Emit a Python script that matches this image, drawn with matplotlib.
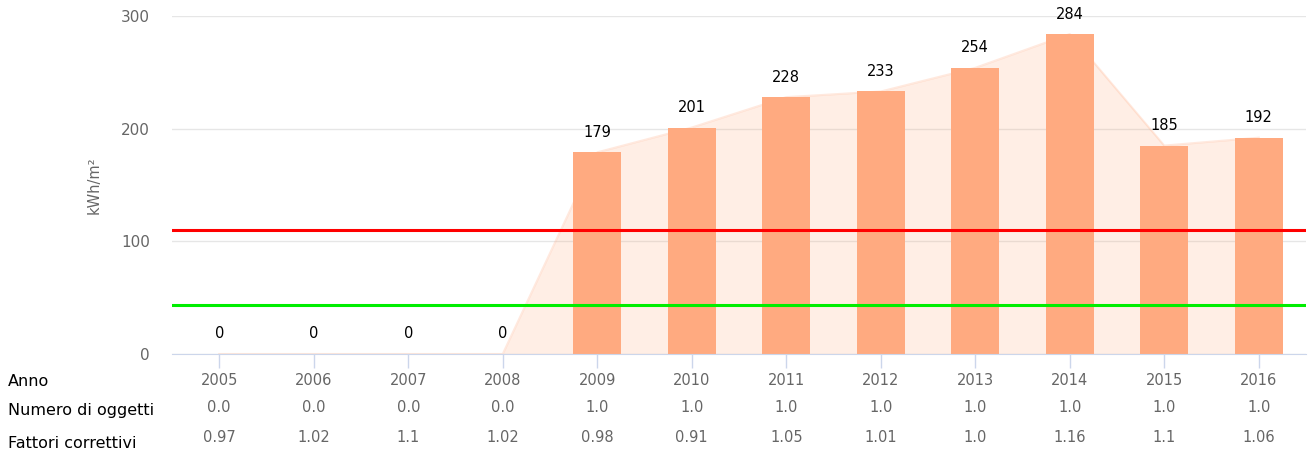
import matplotlib.pyplot as plt
from matplotlib.transforms import blended_transform_factory

# ==============================
# Data
# ==============================

anni = ['2005', '2006', '2007', '2008', '2009', '2010', '2011', '2012', '2013', '2014', '2015', '2016']
consumo = [0, 0, 0, 0, 179, 201, 228, 233, 254, 284, 185, 192]
numero_oggetti = ['0.0', '0.0', '0.0', '0.0', '1.0', '1.0', '1.0', '1.0', '1.0', '1.0', '1.0', '1.0']
fattori = ['0.97', '1.02', '1.1', '1.02', '0.98', '0.91', '1.05', '1.01', '1.0', '1.16', '1.1', '1.06']
limite_rosso = 110
limite_verde = 43.5

# ==============================
# Plot
# ==============================

plt.rcParams['font.family'] = ['DejaVu Sans']

fig = plt.figure(figsize=(13.16, 4.58), dpi=100)
ax = fig.add_axes([172 / 1316, 104 / 458, 1134 / 1316, 338 / 458])

x = list(range(len(anni)))

# area behind bars
ax.fill_between(x, consumo, 0, color='#ffaa80', alpha=0.2, linewidth=0, zorder=1)
ax.plot(x, consumo, color='#ffaa80', alpha=0.25, linewidth=1.5, zorder=1)

# bars
ax.bar(x, consumo, width=0.51, color='#ffaa80', zorder=2)

# limit lines
ax.axhline(limite_rosso, color='#ff0000', linewidth=2.2, zorder=3)
ax.axhline(limite_verde, color='#00ee00', linewidth=2.2, zorder=3)

# data labels
for xi, v in zip(x, consumo):
    ax.annotate(str(v), (xi, v), xytext=(0, 9), textcoords='offset points',
                ha='center', va='bottom', fontsize=10.5, color='#000000')

ax.set_xlim(-0.5, len(anni) - 0.5)
ax.set_ylim(0, 300)
ax.set_yticks([0, 100, 200, 300])
ax.grid(axis='y', color='#e6e6e6', linewidth=1, zorder=0)
ax.set_axisbelow(True)

for s in ['top', 'right', 'left']:
    ax.spines[s].set_visible(False)
ax.spines['bottom'].set_color('#ccd6eb')
ax.spines['bottom'].set_zorder(4)

ax.set_xticks(x)
ax.set_xticklabels(anni)
ax.tick_params(axis='x', colors='#ccd6eb', length=10, width=1, labelcolor='#666666',
               labelsize=10.5, pad=4)
ax.tick_params(axis='y', length=0, labelcolor='#666666', labelsize=11, pad=16)

ax.set_ylabel('kWh/m²', color='#666666', fontsize=10.5, labelpad=14)

# table rows under the chart
trans = blended_transform_factory(ax.transData, fig.transFigure)
for xi, n, f in zip(x, numero_oggetti, fattori):
    ax.text(xi, 1 - 408 / 458, n, transform=trans, ha='center', va='center',
            fontsize=10.5, color='#666666')
    ax.text(xi, 1 - 437 / 458, f, transform=trans, ha='center', va='center',
            fontsize=10.5, color='#666666')

for label, ypix in [('Anno', 382), ('Numero di oggetti', 410), ('Fattori correttivi', 443)]:
    fig.text(8 / 1316, 1 - ypix / 458, label, ha='left', va='center', fontsize=11.5, color='#000000')

fig.savefig('out.png', dpi=100)
